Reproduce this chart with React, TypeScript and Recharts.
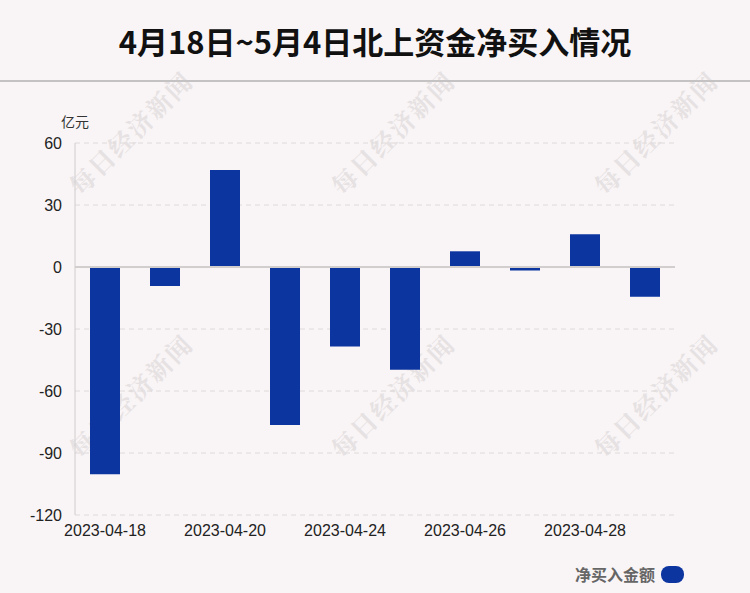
import React from "react";
import { BarChart, Bar, XAxis, YAxis, CartesianGrid, ReferenceLine } from "recharts";

const dates = ["2023-04-18", "2023-04-19", "2023-04-20", "2023-04-21", "2023-04-24", "2023-04-25", "2023-04-26", "2023-04-27", "2023-04-28", "2023-05-04"];
const netBuy = [-100.3, -9.2, 46.9, -76.4, -38.5, -49.7, 7.6, -1.7, 15.8, -14.4];
const yTicks = [60, 30, 0, -30, -60, -90, -120];
const title = "4月18日~5月4日北上资金净买入情况";
const seriesName = "净买入金额";
const unit = "亿元";
const watermark = "每日经济新闻";

const data = dates.map((d, i) => ({ date: d, value: netBuy[i] }));

const BG = "#f9f5f6";
const BAR = "#0c35a0";
const FONT = "'Liberation Sans', Arial, 'Noto Sans CJK SC', sans-serif";

const wmCenters = [
  [130, 132], [392, 132], [655, 132],
  [130, 395], [392, 395], [655, 395],
];

export default function App() {
  return (
    <div style={{ position: "absolute", left: 0, top: 0, width: 750, height: 593, background: BG, overflow: "hidden" }}>
      <svg width={750} height={593} style={{ position: "absolute", left: 0, top: 0 }}>
        {wmCenters.map(([cx, cy], i) => (
          <text
            key={i}
            x={cx}
            y={cy}
            textAnchor="middle"
            dominantBaseline="central"
            transform={`rotate(-45 ${cx} ${cy})`}
            fontSize={25}
            fontWeight={700}
            fill="#e6e1e2"
            fontFamily="'Noto Serif CJK SC', 'Noto Sans CJK SC', serif"
            letterSpacing={2}
          >
            {watermark}
          </text>
        ))}
        <text x={375} y={40} textAnchor="middle" dominantBaseline="central" fontSize={31} fontWeight={700} fill="#111" fontFamily="'Noto Sans CJK SC', sans-serif">
          {title}
        </text>
        <line x1={0} x2={750} y1={81} y2={81} stroke="#c4c2c2" strokeWidth={2} />
        <text x={61} y={121} dominantBaseline="central" fontSize={14} fill="#333" fontFamily="'Noto Sans CJK SC', sans-serif">
          {unit}
        </text>
      </svg>
      <div style={{ position: "absolute", left: 0, top: 0 }}>
        <BarChart width={750} height={593} data={data} margin={{ top: 143, right: 75, bottom: 48, left: 15 }} barCategoryGap="25%">
          <CartesianGrid vertical={false} stroke="#dedada" strokeDasharray="5 4" />
          <XAxis
            dataKey="date"
            interval={1}
            axisLine={false}
            tickLine={false}
            tickMargin={4}
            height={30}
            tick={{ fontSize: 16, fill: "#222", fontFamily: FONT }}
          />
          <YAxis
            domain={[-120, 60]}
            ticks={yTicks}
            interval={0}
            width={60}
            axisLine={{ stroke: "#cfcccc" }}
            tickLine={false}
            tickMargin={7}
            tick={{ fontSize: 16, fill: "#222", fontFamily: FONT }}
          />
          <ReferenceLine y={0} stroke="#d2cece" strokeWidth={2} />
          <Bar dataKey="value" name={seriesName} fill={BAR} isAnimationActive={false} />
        </BarChart>
      </div>
      <div style={{ position: "absolute", right: 66, top: 565, display: "flex", alignItems: "center", fontFamily: "'Noto Sans CJK SC', sans-serif" }}>
        <span style={{ color: "#666", fontWeight: 700, fontSize: 16, lineHeight: "18px" }}>{seriesName}</span>
        <span style={{ display: "inline-block", width: 23, height: 17, borderRadius: 8, background: BAR, marginLeft: 6 }} />
      </div>
    </div>
  );
}
